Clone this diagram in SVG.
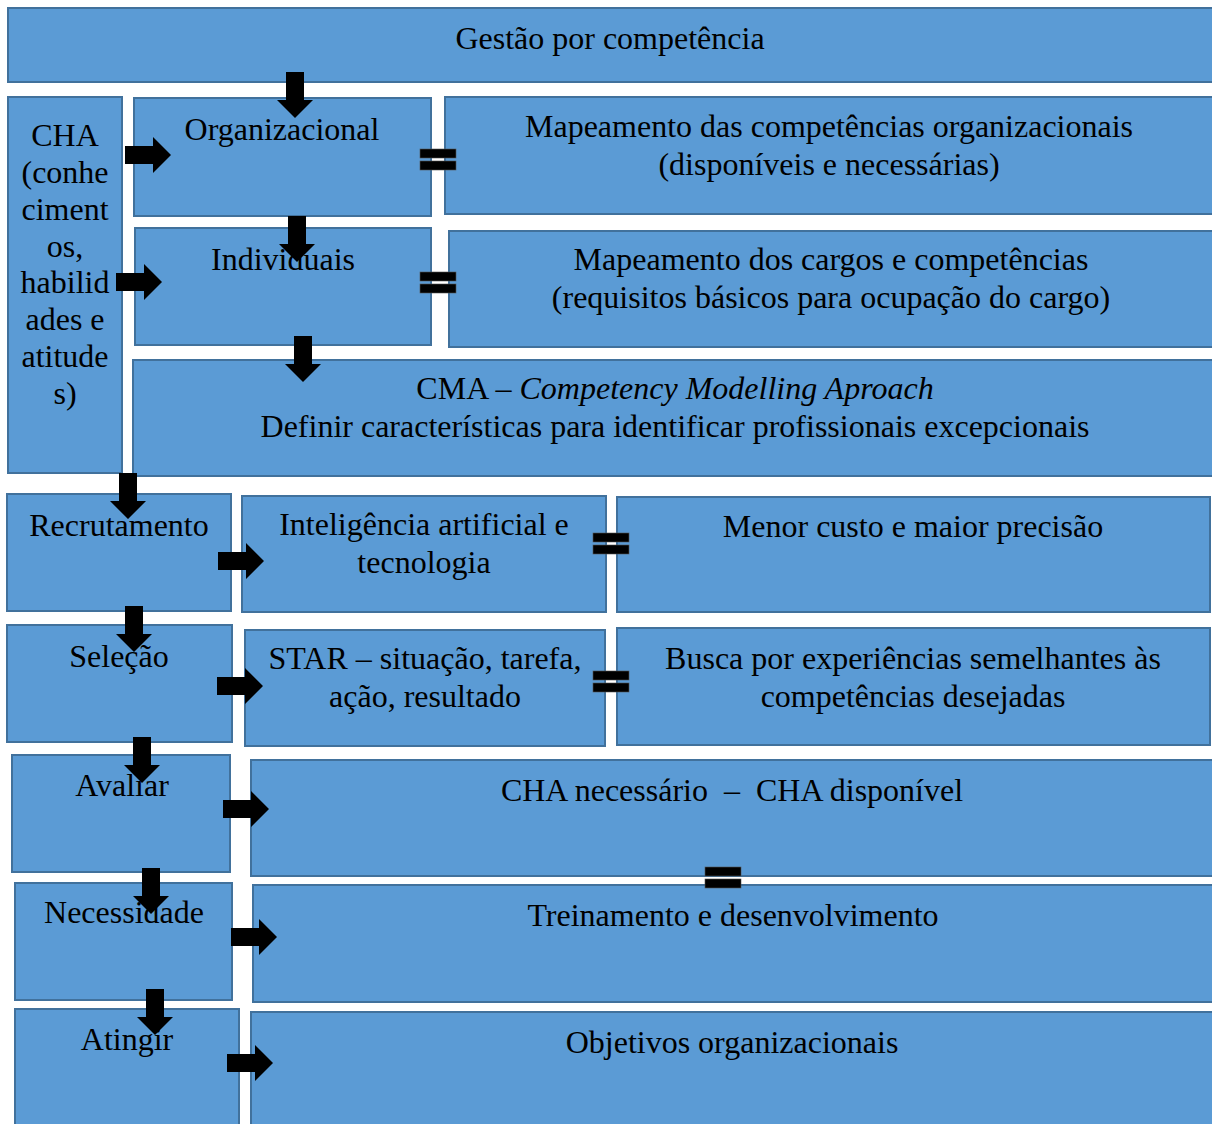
<svg xmlns="http://www.w3.org/2000/svg" xmlns:xlink="http://www.w3.org/1999/xlink" width="1212" height="1124" viewBox="0 0 1212 1124">
<style>
.b{fill:#5B9BD5;stroke:#41719C;stroke-width:2}
.t{font-family:"Liberation Serif","Times New Roman",serif;font-size:32px;fill:#000;text-anchor:middle;white-space:pre}
.eq{fill:#000;stroke:#555;stroke-width:0.6}
.ar{fill:#000}
</style>
<defs>
<path id="ad" d="M-9,-46 H9 V-18 H18 L0,0 L-18,-18 H-9 Z"/>
<path id="ar" d="M-46,-9 H-18 V-18 L0,0 L-18,18 V9 H-46 Z"/>
<g id="eq"><rect x="0" y="0" width="36" height="9"/><rect x="0" y="12" width="36" height="9"/></g>
</defs>
<rect width="1212" height="1124" fill="#fff"/>
<g id="gestao"><rect class="b" x="8" y="8" width="1210" height="74"/><text class="t" x="610" y="49">Gestão por competência</text></g>
<g id="cha"><rect class="b" x="8" y="97" width="114" height="376"/>
<text class="t" x="65" y="146">CHA</text><text class="t" x="65" y="183">(conhe</text><text class="t" x="65" y="220">ciment</text><text class="t" x="65" y="257">os,</text><text class="t" x="65" y="293">habilid</text><text class="t" x="65" y="330">ades e</text><text class="t" x="65" y="367">atitude</text><text class="t" x="65" y="404">s)</text></g>
<g id="org"><rect class="b" x="134" y="98" width="297" height="118"/><text class="t" x="282" y="140">Organizacional</text></g>
<g id="maporg"><rect class="b" x="445" y="97" width="772" height="117"/><text class="t" x="829" y="137">Mapeamento das competências organizacionais</text><text class="t" x="829" y="175">(disponíveis e necessárias)</text></g>
<g id="ind"><rect class="b" x="135" y="228" width="296" height="117"/><text class="t" x="283" y="270">Individuais</text></g>
<g id="mapcargos"><rect class="b" x="449" y="231" width="768" height="116"/><text class="t" x="831" y="270">Mapeamento dos cargos e competências</text><text class="t" x="831" y="308">(requisitos básicos para ocupação do cargo)</text></g>
<g id="cma"><rect class="b" x="133" y="360" width="1084" height="116"/><text class="t" x="675" y="399">CMA – <tspan font-style="italic">Competency Modelling Aproach</tspan></text><text class="t" x="675" y="437">Definir características para identificar profissionais excepcionais</text></g>
<g id="recr"><rect class="b" x="7" y="494" width="224" height="117"/><text class="t" x="119" y="536">Recrutamento</text></g>
<g id="ia"><rect class="b" x="242" y="496" width="364" height="116"/><text class="t" x="424" y="535">Inteligência artificial e</text><text class="t" x="424" y="573">tecnologia</text></g>
<g id="menor"><rect class="b" x="617" y="497" width="593" height="115"/><text class="t" x="913" y="537">Menor custo e maior precisão</text></g>
<g id="sel"><rect class="b" x="7" y="625" width="225" height="117"/><text class="t" x="119" y="667">Seleção</text></g>
<g id="star"><rect class="b" x="245" y="630" width="360" height="116"/><text class="t" x="425" y="669">STAR – situação, tarefa,</text><text class="t" x="425" y="707">ação, resultado</text></g>
<g id="busca"><rect class="b" x="617" y="628" width="593" height="117"/><text class="t" x="913" y="669">Busca por experiências semelhantes às</text><text class="t" x="913" y="707">competências desejadas</text></g>
<g id="aval"><rect class="b" x="12" y="755" width="218" height="117"/><text class="t" x="122" y="796">Avaliar</text></g>
<g id="chanec"><rect class="b" x="251" y="760" width="966" height="116"/><text class="t" x="732" y="801">CHA necessário  –  CHA disponível</text></g>
<g id="nec"><rect class="b" x="15" y="883" width="217" height="117"/><text class="t" x="124" y="923">Necessidade</text></g>
<g id="trein"><rect class="b" x="253" y="885" width="964" height="117"/><text class="t" x="733" y="926">Treinamento e desenvolvimento</text></g>
<g id="ating"><rect class="b" x="15" y="1009" width="224" height="125"/><text class="t" x="127" y="1050">Atingir</text></g>
<g id="obj"><rect class="b" x="251" y="1012" width="966" height="122"/><text class="t" x="732" y="1053">Objetivos organizacionais</text></g>
<g id="connectors" class="ar">
<use xlink:href="#ad" x="295" y="118"/>
<use xlink:href="#ar" x="171" y="155"/>
<use xlink:href="#ad" x="297" y="262"/>
<use xlink:href="#ar" x="162" y="282"/>
<use xlink:href="#ad" x="303" y="382"/>
<use xlink:href="#ad" x="128" y="519"/>
<use xlink:href="#ar" x="264" y="561"/>
<use xlink:href="#ad" x="134" y="652"/>
<use xlink:href="#ar" x="263" y="686"/>
<use xlink:href="#ad" x="142" y="783"/>
<use xlink:href="#ar" x="269" y="809"/>
<use xlink:href="#ad" x="151" y="914"/>
<use xlink:href="#ar" x="277" y="937"/>
<use xlink:href="#ad" x="155" y="1035"/>
<use xlink:href="#ar" x="273" y="1063"/>
<g class="eq">
<use xlink:href="#eq" x="420" y="149"/>
<use xlink:href="#eq" x="420" y="272"/>
<use xlink:href="#eq" x="593" y="533"/>
<use xlink:href="#eq" x="593" y="671"/>
<use xlink:href="#eq" x="705" y="867"/>
</g>
</g>
</svg>
